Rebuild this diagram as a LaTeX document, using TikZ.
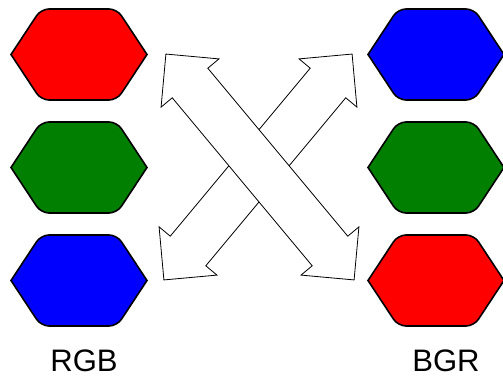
\documentclass[tikz,border=0pt]{standalone}
\usepackage{fontspec}
\setmainfont{Liberation Sans}
\usepackage{xcolor}
\usetikzlibrary{shapes.arrows}

\definecolor{hexred}{HTML}{FF0000}
\definecolor{hexgreen}{HTML}{007F00}
\definecolor{hexblue}{HTML}{0000FF}

\begin{document}
\begin{tikzpicture}[x=0.75pt,y=-0.75pt,
 hexa/.pic={
  \draw[line width=1.2pt,fill=#1] (-68,0) [rounded corners=6] -- (-38,-45.5) -- (38,-45.5) [sharp corners] -- (68,0)
   [rounded corners=6] -- (38,45.5) -- (-38,45.5) [sharp corners] -- cycle;
 },
 bigarrow/.style={double arrow,draw,fill=white,line width=0.6pt,minimum height=220.5pt,
  text height=0pt,text depth=0pt,inner xsep=0pt,inner ysep=17.05pt,
  double arrow head extend=10.9pt,double arrow tip angle=90,outer sep=0pt},
 lbl/.style={anchor=base,inner sep=0pt,text depth=0pt,font=\fontsize{23.3}{28}\selectfont}]
 \useasboundingbox (0,0) rectangle (503,377);

 % left column
 \pic (lr) at (79,54.5) {hexa=hexred};
 \pic (lg) at (79,167.5) {hexa=hexgreen};
 \pic (lb) at (79,280.5) {hexa=hexblue};

 % right column
 \pic (rb) at (436,54.5) {hexa=hexblue};
 \pic (rg) at (436,167.5) {hexa=hexgreen};
 \pic (rr) at (436,280.5) {hexa=hexred};

 % crossing arrows
 \node[bigarrow,rotate=50.2] (swap2) at (258,167) {};
 \node[bigarrow,rotate=-50.2] (swap1) at (260,167) {};

 \node[lbl] (rgb) at (84,372) {RGB};
 \node[lbl] (bgr) at (446,372) {BGR};
\end{tikzpicture}
\end{document}
